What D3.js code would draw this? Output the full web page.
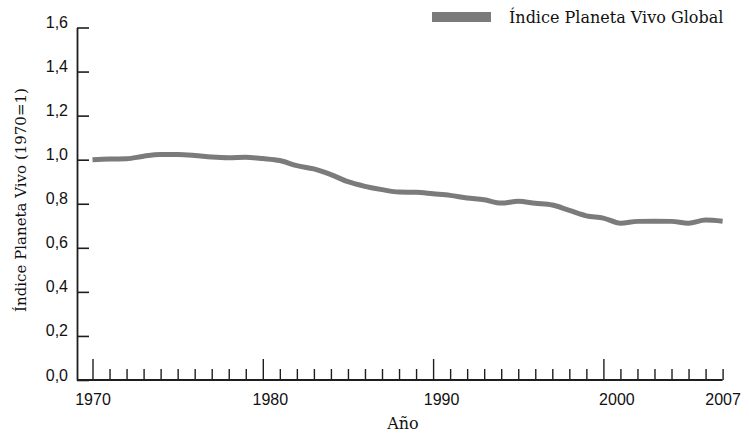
<!DOCTYPE html>
<html>
<head>
<meta charset="utf-8">
<script src="https://cdn.jsdelivr.net/npm/d3@7"></script>
<style>
  html, body { margin: 0; padding: 0; background: #fff; }
  svg { display: block; }
</style>
</head>
<body>
<svg id="chart" width="749" height="433"></svg>
<script>
// ---- data ----
const years = [1970,1971,1972,1973,1974,1975,1976,1977,1978,1979,
               1980,1981,1982,1983,1984,1985,1986,1987,1988,1989,
               1990,1991,1992,1993,1994,1995,1996,1997,1998,1999,
               2000,2001,2002,2003,2004,2005,2006,2007];
const lpiGlobal = [1.000,1.003,1.004,1.016,1.023,1.023,1.019,1.012,1.009,1.011,
                   1.005,0.996,0.973,0.958,0.932,0.900,0.879,0.864,0.853,0.852,
                   0.845,0.838,0.826,0.818,0.803,0.811,0.802,0.794,0.770,0.745,
                   0.735,0.712,0.720,0.721,0.720,0.712,0.726,0.721];
const yTicks = [0, 0.2, 0.4, 0.6, 0.8, 1.0, 1.2, 1.4, 1.6];
const xLabelYears = [1970, 1980, 1990, 2000, 2007];
const xMajorYears = [1970, 1980, 1990, 2000];
const seriesName = "Índice Planeta Vivo Global";
const yTitle = "Índice Planeta Vivo (1970=1)";
const xTitle = "Año";

// ---- layout ----
const svg = d3.select("#chart");
const axisColor = "#1e1e1e";
const lineColor = "#7b7b7b";
const axisX0 = 77;
const labelNudge = {1980: 7, 1990: 8, 2000: 13};

const x = d3.scaleLinear().domain([1970, 2007]).range([92.5, 722.6]);
const y = d3.scaleLinear().domain([0, 1.6]).range([380, 27.5]);

// Y axis
const yAxis = d3.axisLeft(y)
  .tickValues(yTicks)
  .tickSizeInner(-12)
  .tickSizeOuter(0)
  .tickPadding(9)
  .tickFormat(d => d3.format(".1f")(d).replace(".", ","));

const gy = svg.append("g")
  .attr("transform", `translate(${axisX0},0)`)
  .call(yAxis);
gy.select(".domain").attr("stroke", axisColor).attr("stroke-width", 1.8);
gy.selectAll(".tick line").attr("stroke", axisColor).attr("stroke-width", 1.6);
gy.selectAll(".tick text")
  .attr("dy", "0")
  .attr("fill", "#111")
  .style("font-family", "'Liberation Sans', Arial, sans-serif")
  .style("font-size", "16px");

// X axis
const xAxis = d3.axisBottom(x)
  .tickValues(years)
  .tickSizeInner(-11)
  .tickSizeOuter(0)
  .tickPadding(14)
  .tickFormat(d => xLabelYears.includes(d) ? String(d) : "");

const gx = svg.append("g")
  .attr("transform", `translate(0,${y(0)})`)
  .call(xAxis);
gx.select(".domain").remove();
gx.append("line")
  .attr("x1", axisX0).attr("x2", x(2007))
  .attr("y1", 0).attr("y2", 0)
  .attr("stroke", axisColor).attr("stroke-width", 1.8);
gx.selectAll(".tick line")
  .attr("stroke", axisColor).attr("stroke-width", 1.4)
  .attr("y2", d => xMajorYears.includes(d) ? -21 : -11);
gx.selectAll(".tick text")
  .attr("fill", "#111")
  .attr("dx", d => labelNudge[d] || 0)
  .style("font-family", "'Liberation Sans', Arial, sans-serif")
  .style("font-size", "16px");

// Line
const line = d3.line()
  .x((d, i) => x(years[i]))
  .y(d => y(d))
  .curve(d3.curveMonotoneX);

svg.append("path")
  .datum(lpiGlobal)
  .attr("fill", "none")
  .attr("stroke", lineColor)
  .attr("stroke-width", 5)
  .attr("stroke-linejoin", "round")
  .attr("d", line);

// Axis titles
const serif = "'DejaVu Serif', serif";
svg.append("text")
  .attr("transform", `translate(26,200) rotate(-90)`)
  .attr("text-anchor", "middle")
  .attr("fill", "#111")
  .style("font-family", serif)
  .style("font-size", "15px")
  .text(yTitle);

svg.append("text")
  .attr("x", 403).attr("y", 429)
  .attr("text-anchor", "middle")
  .attr("fill", "#111")
  .style("font-family", serif)
  .style("font-size", "16px")
  .text(xTitle);

// Legend
svg.append("rect")
  .attr("x", 432).attr("y", 12)
  .attr("width", 59).attr("height", 10)
  .attr("fill", lineColor);
svg.append("text")
  .attr("x", 509).attr("y", 23)
  .attr("fill", "#111")
  .style("font-family", serif)
  .style("font-size", "16px")
  .text(seriesName);
</script>
</body>
</html>
